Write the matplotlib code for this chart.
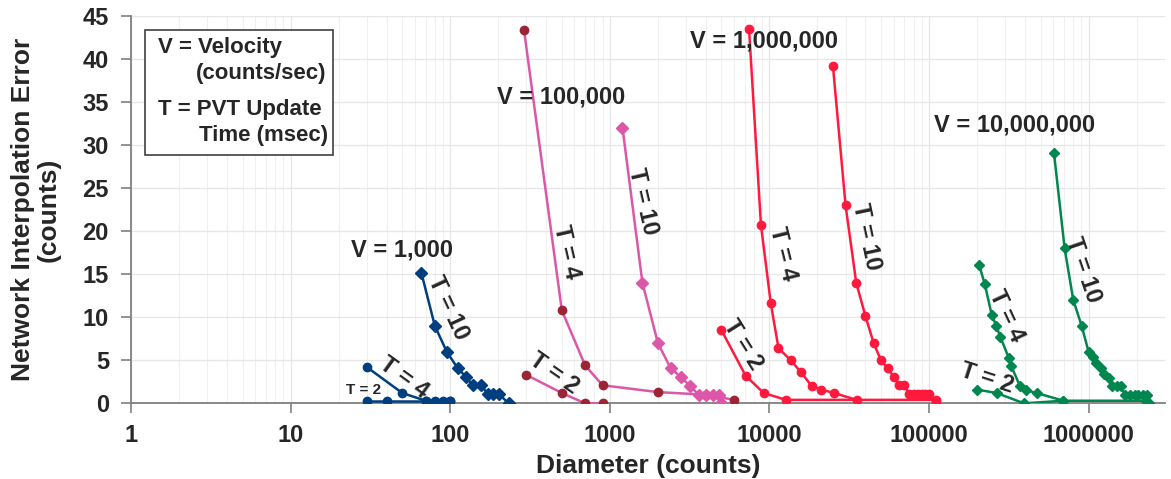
import matplotlib.pyplot as plt
import matplotlib.patches as mpatches

plt.rcParams['font.family'] = ['Liberation Sans', 'DejaVu Sans']
plt.rcParams['font.weight'] = 'bold'

# ── Data (diameter in counts, error in counts) ───────────────────────────────
# V = 1,000 counts/sec
v1k_t2_x = [30, 40, 70, 90, 100]
v1k_t2_y = [0.3, 0.3, 0.3, 0.3, 0.3]
v1k_t4_x = [30, 50, 70, 80, 100]
v1k_t4_y = [4.2, 1.2, 0.3, 0.3, 0.3]
v1k_t10_x = [66, 80, 95, 111, 125, 138, 156, 172, 186, 201, 232]
v1k_t10_y = [15.1, 9.0, 6.0, 4.1, 3.1, 2.1, 2.1, 1.1, 1.1, 1.1, 0.0]

# V = 100,000
v100k_t2_x = [300, 500, 700, 900]
v100k_t2_y = [3.3, 1.2, 0.0, 0.0]
v100k_t4_x = [290, 500, 700, 900, 2000, 4000, 6000]
v100k_t4_y = [43.3, 10.8, 4.4, 2.1, 1.3, 1.0, 0.4]
v100k_t10_x = [1200, 1600, 2000, 2400, 2800, 3200, 3600, 4000, 4400, 4800, 5000]
v100k_t10_y = [32.0, 14.0, 7.0, 4.1, 3.0, 2.0, 1.0, 1.0, 1.0, 1.0, 0.0]

# V = 1,000,000
v1m_t2_x = [5000, 7100, 9200, 12700, 110000]
v1m_t2_y = [8.5, 3.2, 1.2, 0.4, 0.4]
v1m_t4_x = [7450, 8850, 10200, 11400, 13600, 15800, 18400, 21000, 25400, 35200]
v1m_t4_y = [43.5, 20.7, 11.6, 6.4, 5.0, 3.6, 2.0, 1.6, 1.2, 0.4]
v1m_t10_x = [25000, 30000, 35000, 40000, 45000, 50000, 55000, 60000, 65000,
             70000, 75000, 80000, 85000, 90000, 95000, 100000, 110000]
v1m_t10_y = [39.2, 23.0, 14.0, 10.1, 7.0, 5.0, 4.1, 3.1, 2.1,
             2.1, 1.1, 1.1, 1.1, 1.1, 1.1, 1.1, 0.1]

# V = 10,000,000
v10m_t2_x = [199000, 265000, 394000, 695000, 2300000]
v10m_t2_y = [1.6, 1.2, 0.0, 0.3, 0.3]
v10m_t4_x = [206000, 224000, 247000, 264000, 280000, 316000, 328000,
             372000, 407000, 473000, 695000]
v10m_t4_y = [16.1, 13.8, 10.3, 9.0, 7.7, 5.3, 4.3, 2.0, 1.5, 1.2, 0.3]
v10m_t10_x = [607000, 708000, 802000, 905000, 1000000, 1070000, 1120000,
              1190000, 1250000, 1340000, 1400000, 1500000, 1590000,
              1690000, 1820000, 1950000, 2050000, 2180000, 2310000, 2400000]
v10m_t10_y = [29.1, 18.0, 12.0, 9.0, 6.0, 5.4, 4.7, 4.1, 3.4, 2.9, 2.0,
              2.0, 2.0, 1.0, 1.0, 1.0, 1.0, 1.0, 1.0, 0.0]

y_ticks = [0, 5, 10, 15, 20, 25, 30, 35, 40, 45]
x_ticks = [1, 10, 100, 1000, 10000, 100000, 1000000]

navy = '#003f7f'
pink = '#dc57a8'
maroon = '#9c2535'
red = '#ff1a3d'
green = '#00874f'
txt = '#262626'

fig = plt.figure(figsize=(11.71, 4.79), dpi=100)
ax = fig.add_axes([0.112, 0.158, 0.883, 0.809])


def series(x, y, line, mark, marker, ms):
    ax.plot(x, y, color=line, linewidth=1.8, marker=marker, markersize=ms,
            markerfacecolor=mark, markeredgecolor=mark, zorder=3)


series(v1k_t2_x, v1k_t2_y, navy, navy, 'o', 6)
series(v1k_t4_x, v1k_t4_y, navy, navy, 'o', 6)
series(v1k_t10_x, v1k_t10_y, navy, navy, 'D', 6)

series(v100k_t2_x, v100k_t2_y, pink, maroon, 'o', 6)
series(v100k_t4_x, v100k_t4_y, pink, maroon, 'o', 6)
series(v100k_t10_x, v100k_t10_y, pink, pink, 'D', 6)

series(v1m_t2_x, v1m_t2_y, red, red, 'o', 6)
series(v1m_t4_x, v1m_t4_y, red, red, 'o', 6)
series(v1m_t10_x, v1m_t10_y, red, red, 'o', 6)

series(v10m_t2_x, v10m_t2_y, green, green, 'D', 5.5)
series(v10m_t4_x, v10m_t4_y, green, green, 'D', 5.5)
series(v10m_t10_x, v10m_t10_y, green, green, 'D', 5.5)

ax.set_xscale('log')
ax.set_xlim(1, 10 ** 6.48)
ax.set_ylim(0, 45)
ax.set_xticks(x_ticks)
ax.set_xticklabels([str(v) for v in x_ticks])
ax.set_yticks(y_ticks)
ax.tick_params(axis='both', which='major', labelsize=17, labelcolor=txt,
               color='#808080', length=7, width=1.2)
ax.tick_params(axis='x', which='major', pad=8)
ax.tick_params(axis='y', which='major', pad=9)
ax.tick_params(axis='x', which='minor', length=0)
for lab in ax.get_xticklabels() + ax.get_yticklabels():
    lab.set_fontweight('bold')

ax.grid(True, which='major', color='#e6e6e6', linewidth=0.9, zorder=0)
ax.grid(True, which='minor', axis='x', color='#f0f0f0', linewidth=0.8, zorder=0)
ax.set_axisbelow(True)
for side in ['top', 'right']:
    ax.spines[side].set_visible(False)
for side in ['left', 'bottom']:
    ax.spines[side].set_color('#808080')
    ax.spines[side].set_linewidth(1.3)

ax.set_xlabel('Diameter (counts)', fontsize=19, fontweight='bold', color=txt,
              labelpad=5)
ax.set_ylabel('Network Interpolation Error\n(counts)', fontsize=19,
              fontweight='bold', color=txt, labelpad=16, linespacing=1.05)

# Annotations
big = dict(fontsize=17, fontweight='bold', color=txt, ha='center', va='center')
ax.text(50, 17.8, 'V = 1,000', **big)
ax.text(97, 11.1, 'T = 10', rotation=-65, **big)
ax.text(51, 3.0, 'T = 4', rotation=-36, **big)
ax.text(28.6, 1.5, 'T = 2', fontsize=11, fontweight='bold', color=txt,
        ha='center', va='center')

ax.text(498, 35.6, 'V = 100,000', **big)
ax.text(537, 17.6, 'T = 4', rotation=-77, **big)
ax.text(1622, 23.4, 'T = 10', rotation=-77, **big)
ax.text(447, 3.5, 'T = 2', rotation=-35, **big)

ax.text(9250, 42.1, 'V = 1,000,000', **big)
ax.text(12200, 17.4, 'T = 4', rotation=-76, **big)
ax.text(40300, 19.3, 'T = 10', rotation=-78, **big)
ax.text(6800, 6.8, 'T = 2', rotation=-58, **big)

ax.text(346000, 32.3, 'V = 10,000,000', **big)
ax.text(307000, 10.1, 'T = 4', rotation=-65, **big)
ax.text(927000, 15.5, 'T = 10', rotation=-71, **big)
ax.text(232000, 2.9, 'T = 2', rotation=-18, **big)

# Key box in the upper left
box = mpatches.Rectangle((0.0135, 0.641), 0.182, 0.322, transform=ax.transAxes,
                         facecolor='white', edgecolor='#404040', linewidth=1.2,
                         zorder=4)
ax.add_patch(box)
key = dict(transform=ax.transAxes, fontsize=16, fontweight='bold', color=txt,
           va='center', zorder=5)
ax.text(0.026, 0.919, 'V = Velocity', **key)
ax.text(0.063, 0.852, '(counts/sec)', **key)
ax.text(0.026, 0.757, 'T = PVT Update', **key)
ax.text(0.066, 0.690, 'Time (msec)', **key)

fig.savefig('out.png', dpi=100)
